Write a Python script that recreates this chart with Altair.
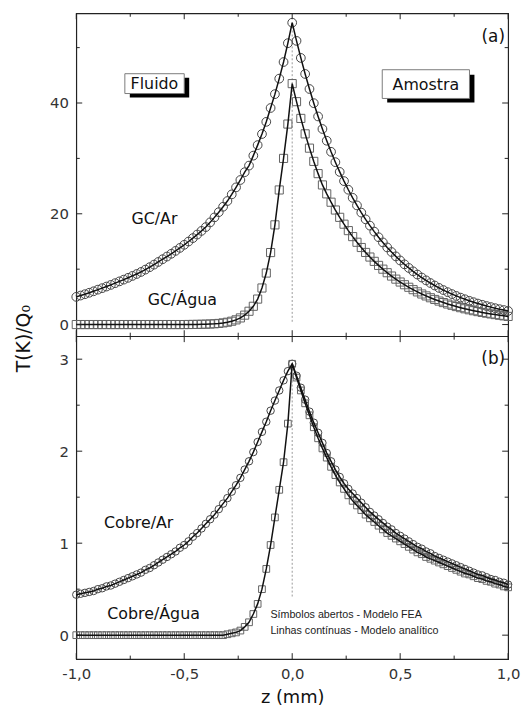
import altair as alt
import numpy as np
import pandas as pd

# Probe positions (mm), one sample every 0.02 mm
Z = np.round(np.linspace(-1.0, 1.0, 101), 2)

# Panel (a): graphite sample (GC) in air and in water
GC_AR = [
    5.0, 5.24, 5.48, 5.74, 6.01, 6.3, 6.57, 6.86, 7.16, 7.47,
    7.8, 8.11, 8.44, 8.78, 9.13, 9.5, 9.92, 10.36, 10.82, 11.3,
    11.8, 12.28, 12.78, 13.3, 13.84, 14.4, 14.99, 15.61, 16.25, 16.91,
    17.6, 18.45, 19.35, 20.29, 21.27, 22.3, 23.5, 24.77, 26.1, 27.51,
    28.7, 30.5, 32.4, 34.4, 36.6, 39.1, 41.6, 44.4, 47.4, 50.8,
    54.5,
    51.22, 48.14, 45.25, 42.53, 39.97, 37.57, 35.31, 33.19, 31.19, 29.32,
    27.56, 25.9, 24.34, 22.88, 21.51, 20.21, 19.0, 17.86, 16.78, 15.77,
    14.83, 13.93, 13.1, 12.31, 11.57, 10.87, 10.22, 9.61, 9.03, 8.49,
    7.98, 7.5, 7.05, 6.62, 6.23, 5.85, 5.5, 5.17, 4.86, 4.57,
    4.29, 4.04, 3.79, 3.57, 3.35, 3.15, 2.96, 2.78, 2.62, 2.46,
]
GC_AGUA = [
    0.0, 0.0, 0.0, 0.0, 0.0, 0.0, 0.0, 0.0, 0.0, 0.0,
    0.0, 0.0, 0.0, 0.0, 0.0, 0.0, 0.0, 0.0, 0.0, 0.0,
    0.0, 0.0, 0.0, 0.0, 0.0, 0.0,
    0.01, 0.02, 0.03, 0.05, 0.07, 0.1, 0.14, 0.2, 0.3, 0.42,
    0.6, 0.85, 1.2, 1.7, 2.4, 3.3, 4.6, 6.6, 9.3, 13.0,
    18.0, 24.3, 30.0, 36.2, 43.5,
    40.24, 37.22, 34.43, 31.85, 29.46, 27.25, 25.21, 23.6, 22.09, 20.68,
    19.36, 18.12, 16.96, 15.88, 14.86, 13.91, 13.02, 12.19, 11.41, 10.68,
    10.0, 9.36, 8.76, 8.2, 7.68, 7.19, 6.73, 6.3, 5.9, 5.52,
    5.17, 4.84, 4.53, 4.24, 3.97, 3.71, 3.48, 3.25, 3.05, 2.85,
    2.67, 2.5, 2.34, 2.19, 2.05, 1.92, 1.8, 1.68, 1.57, 1.47,
]

# Panel (b): copper sample (Cobre) in air and in water
COBRE_AR = [
    0.44, 0.45, 0.46, 0.47, 0.48, 0.5, 0.51, 0.53, 0.54, 0.56,
    0.58, 0.6, 0.62, 0.64, 0.66, 0.68, 0.71, 0.73, 0.76, 0.79,
    0.82, 0.85, 0.88, 0.91, 0.95, 0.98, 1.02, 1.07, 1.11, 1.16,
    1.21, 1.26, 1.31, 1.37, 1.43, 1.49, 1.56, 1.63, 1.71, 1.8,
    1.89, 1.99, 2.1, 2.21, 2.32, 2.44, 2.55, 2.66, 2.77, 2.87,
    2.95,
    2.82, 2.69, 2.56, 2.43, 2.31, 2.2, 2.09, 1.98, 1.89, 1.8,
    1.72, 1.65, 1.59, 1.54, 1.49, 1.44, 1.39, 1.34, 1.3, 1.26,
    1.22, 1.18, 1.15, 1.11, 1.08, 1.05, 1.02, 0.99, 0.96, 0.94,
    0.91, 0.89, 0.86, 0.84, 0.82, 0.8, 0.78, 0.76, 0.74, 0.72,
    0.7, 0.68, 0.66, 0.65, 0.63, 0.61, 0.6, 0.58, 0.57, 0.55,
]
COBRE_AGUA = [
    0.0, 0.0, 0.0, 0.0, 0.0, 0.0, 0.0, 0.0, 0.0, 0.0,
    0.0, 0.0, 0.0, 0.0, 0.0, 0.0, 0.0, 0.0, 0.0, 0.0,
    0.0, 0.0, 0.0, 0.0, 0.0, 0.0, 0.0, 0.0, 0.0, 0.0,
    0.0, 0.0, 0.0, 0.0, 0.0,
    0.01, 0.02, 0.03, 0.05, 0.09, 0.14, 0.23, 0.34, 0.5, 0.72,
    0.98, 1.28, 1.58, 1.88, 2.3, 2.95,
    2.8, 2.66, 2.52, 2.39, 2.26, 2.14, 2.03, 1.93, 1.83, 1.74,
    1.66, 1.59, 1.52, 1.46, 1.41, 1.36, 1.31, 1.27, 1.23, 1.19,
    1.15, 1.11, 1.08, 1.05, 1.02, 0.99, 0.96, 0.93, 0.9, 0.88,
    0.85, 0.83, 0.81, 0.79, 0.77, 0.75, 0.73, 0.71, 0.69, 0.67,
    0.66, 0.64, 0.62, 0.61, 0.59, 0.58, 0.56, 0.55, 0.53, 0.52,
]

# Axis ticks
X_MAJOR = [-1.0, -0.5, 0.0, 0.5, 1.0]
X_MINOR = [-0.75, -0.25, 0.25, 0.75]
YA_MAJOR = [0, 20, 40]
YA_MINOR = [10, 30, 50]
YB_MAJOR = [0, 1, 2, 3]
YB_MINOR = [0.5, 1.5, 2.5]

X_DOMAIN = [-1.0, 1.0]
YA_DOMAIN = [-2.1, 56.2]
YB_DOMAIN = [-0.26, 3.25]

# Dotted guide at z = 0 (value span)
GUIDE_A = [0.5, 54.5]
GUIDE_B = [0.42, 2.95]

# Annotations (data coordinates)
LABELS_A = pd.DataFrame({
    "z": [-0.638, -0.509, 0.931],
    "v": [19.0, 4.34, 51.91],
    "txt": ["GC/Ar", "GC/Água", "(a)"],
    "fs": [16, 16, 17],
})
BOXES_A = pd.DataFrame({
    "txt": ["Fluido", "Amostra"],
    "z0": [-0.775, 0.417], "z1": [-0.500, 0.821],
    "v0": [41.71, 40.82], "v1": [45.29, 46.01],
    "sz0": [-0.752, 0.440], "sz1": [-0.477, 0.844],
    "sv0": [41.0, 40.11], "sv1": [44.58, 45.11],
    "tz": [-0.638, 0.619], "tv": [43.5, 43.32],
})
LABELS_B = pd.DataFrame({
    "z": [-0.711, -0.642, 0.931],
    "v": [1.215, 0.225, 3.0],
    "txt": ["Cobre/Ar", "Cobre/Água", "(b)"],
    "fs": [16, 16, 17],
})
NOTES_B = pd.DataFrame({
    "z": [-0.101, -0.101],
    "v": [0.214, 0.042],
    "txt": ["Símbolos abertos - Modelo FEA", "Linhas contínuas  - Modelo analítico"],
})

W, H = 436, 326
FONT = "DejaVu Sans"
INK = "#222222"


def xs():
    return alt.Scale(domain=X_DOMAIN, nice=False, zero=False)


def ys(dom):
    return alt.Scale(domain=dom, nice=False, zero=False)


def curves(name_air, air, name_water, water):
    return pd.concat([
        pd.DataFrame({"z": Z, "v": air, "serie": name_air}),
        pd.DataFrame({"z": Z, "v": water, "serie": name_water}),
    ], ignore_index=True)


def panel(data, names, ydom, ymaj, ymin, guide, labels, boxes, notes, bottom):
    if bottom:
        x_axis = alt.Axis(
            values=X_MAJOR, ticks=False, tickSize=0, domain=False, grid=False,
            labelExpr="(datum.value < 0 ? '-' : '') + replace(format(abs(datum.value), '.1f'), '.', ',')",
            labelFont=FONT, labelFontSize=15, labelColor="#333333", labelPadding=8,
            labelFlush=False, title="z (mm)", titleFont=FONT, titleFontSize=18,
            titleFontWeight="normal", titleColor="#111111", titlePadding=7,
        )
        y_axis = alt.Axis(
            values=ymaj, ticks=False, tickSize=0, domain=False, grid=False,
            labelFont=FONT, labelFontSize=15, labelColor="#333333", labelPadding=8,
            title="T(K)/Q₀", titleFont=FONT, titleFontSize=19, titleFontWeight="normal",
            titleColor="#111111", titleAngle=270, titleAlign="center",
            titleBaseline="alphabetic", titleX=-47, titleY=2,
        )
    else:
        x_axis = None
        y_axis = alt.Axis(
            values=ymaj, ticks=False, tickSize=0, domain=False, grid=False,
            labelFont=FONT, labelFontSize=15, labelColor="#333333", labelPadding=8,
            title=None,
        )

    # every field-based position channel carries the same axis definition
    def X(field):
        return alt.X(field, scale=xs(), axis=x_axis)

    def Y(field):
        return alt.Y(field, scale=ys(ydom), axis=y_axis)

    guide_df = pd.DataFrame({"z": [0.0], "v0": [guide[0]], "v1": [guide[1]]})
    guide_layer = alt.Chart(guide_df).mark_rule(
        color="#9a9a9a", strokeDash=[2, 2], strokeWidth=1
    ).encode(x=X("z:Q"), y=Y("v0:Q"), y2="v1:Q")

    points = alt.Chart(data).mark_point(filled=False, strokeWidth=1, opacity=1).encode(
        x=X("z:Q"),
        y=Y("v:Q"),
        shape=alt.Shape("serie:N", scale=alt.Scale(domain=names, range=["circle", "square"]), legend=None),
        size=alt.Size("serie:N", scale=alt.Scale(domain=names, range=[78, 46]), legend=None),
        color=alt.Color("serie:N", scale=alt.Scale(domain=names, range=["#444444", "#626262"]), legend=None),
    )

    lines = alt.Chart(data).mark_line(color="#111111", strokeWidth=1.5).encode(
        x=X("z:Q"), y=Y("v:Q"), detail="serie:N",
    )

    text_layer = alt.Chart(labels).mark_text(font=FONT, color="#111111").encode(
        x=X("z:Q"), y=Y("v:Q"), text="txt:N", size=alt.Size("fs:Q", scale=None),
    )

    layers = [guide_layer, points, lines, text_layer]

    if boxes is not None:
        shadow = alt.Chart(boxes).mark_rect(color="black").encode(
            x=X("sz0:Q"), x2="sz1:Q", y=Y("sv0:Q"), y2="sv1:Q",
        )
        frame = alt.Chart(boxes).mark_rect(fill="white", stroke="#7a7a7a", strokeWidth=1).encode(
            x=X("z0:Q"), x2="z1:Q", y=Y("v0:Q"), y2="v1:Q",
        )
        box_text = alt.Chart(boxes).mark_text(font=FONT, fontSize=16, color="#111111").encode(
            x=X("tz:Q"), y=Y("tv:Q"), text="txt:N",
        )
        layers += [shadow, frame, box_text]

    if notes is not None:
        layers.append(alt.Chart(notes).mark_text(
            font="Liberation Sans Narrow, Liberation Sans", fontSize=10.8,
            color="#222222", align="left",
        ).encode(x=X("z:Q"), y=Y("v:Q"), text="txt:N"))

    # inward tick marks on all four sides
    for vals, ln in [(X_MAJOR, 6), (X_MINOR, 3.5)]:
        df = pd.DataFrame({"tv": vals})
        layers.append(alt.Chart(df).mark_rule(color=INK, strokeWidth=1).encode(
            x=X("tv:Q"), y=alt.value(0), y2=alt.value(ln)))
        layers.append(alt.Chart(df).mark_rule(color=INK, strokeWidth=1).encode(
            x=X("tv:Q"), y=alt.value(H), y2=alt.value(H - ln)))
    for vals, ln in [(ymaj, 6), (ymin, 3.5)]:
        df = pd.DataFrame({"tv": vals})
        layers.append(alt.Chart(df).mark_rule(color=INK, strokeWidth=1).encode(
            y=Y("tv:Q"), x=alt.value(0), x2=alt.value(ln)))
        layers.append(alt.Chart(df).mark_rule(color=INK, strokeWidth=1).encode(
            y=Y("tv:Q"), x=alt.value(W), x2=alt.value(W - ln)))

    return alt.layer(*layers).properties(width=W, height=H)


top = panel(curves("GC/Ar", GC_AR, "GC/Água", GC_AGUA), ["GC/Ar", "GC/Água"],
            YA_DOMAIN, YA_MAJOR, YA_MINOR, GUIDE_A, LABELS_A, BOXES_A, None, False)
bottom = panel(curves("Cobre/Ar", COBRE_AR, "Cobre/Água", COBRE_AGUA), ["Cobre/Ar", "Cobre/Água"],
               YB_DOMAIN, YB_MAJOR, YB_MINOR, GUIDE_B, LABELS_B, None, NOTES_B, True)

chart = alt.vconcat(top, bottom, spacing=0, bounds="flush").properties(
    padding={"left": 14, "top": 8, "right": 0, "bottom": 0},
    background="white",
).configure_view(stroke=INK, strokeWidth=1.2)

chart.save("out.html", embed_options={"renderer": "svg", "actions": False})
